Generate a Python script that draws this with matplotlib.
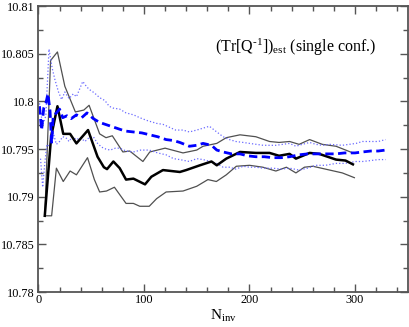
import matplotlib
matplotlib.use("Agg")
import matplotlib.pyplot as plt
from matplotlib.ticker import MultipleLocator

# ---- data ----
black_x = [6, 12, 18, 23.5, 30, 36, 47, 56, 62, 65, 71, 77, 83, 90, 101, 107, 118, 134, 140, 153,
           164, 169, 178, 191, 206, 219, 228, 238, 244, 257, 266, 282, 291, 298]
black_y = [10.788, 10.7963, 10.7995, 10.7966, 10.7966, 10.7956, 10.797, 10.7942, 10.7931, 10.7929,
           10.7937, 10.793, 10.7918, 10.7919, 10.7913, 10.7921, 10.7928, 10.7926, 10.7928, 10.7933,
           10.7937, 10.7933, 10.794, 10.7947, 10.7946, 10.7946, 10.7943, 10.7945, 10.794, 10.7946,
           10.7945, 10.7939, 10.7938, 10.7934]

gup_x = [6, 11.5, 18, 25, 35, 43, 48, 53, 58, 64, 70, 80, 86.5, 99, 105.5, 120, 137, 150, 156, 169,
         178, 191, 206, 219, 228, 238, 247, 257, 269, 282, 298]
gup_y = [10.788, 10.8043, 10.8052, 10.8016, 10.7989, 10.7991, 10.7996, 10.7981, 10.7966, 10.7962,
         10.7964, 10.7947, 10.7948, 10.7937, 10.7947, 10.7951, 10.7946, 10.7949, 10.7953, 10.7956,
         10.7962, 10.7965, 10.7963, 10.7958, 10.7957, 10.7958, 10.7955, 10.796, 10.7955, 10.7953,
         10.7946]

glo_x = [6, 12.5, 17, 23.5, 30, 36, 46.5, 53, 58, 64.5, 72, 83, 90, 96, 105, 112, 121, 137, 150,
         160.6, 168.6, 178, 187.5, 200, 212.7, 225, 235, 244, 252, 260, 276, 288, 299.4]
glo_y = [10.788, 10.788, 10.793, 10.7916, 10.7927, 10.7923, 10.7941, 10.7918, 10.7905, 10.7906,
         10.791, 10.7893, 10.7893, 10.789, 10.789, 10.7898, 10.7905, 10.7906, 10.7911, 10.7918,
         10.7916, 10.7923, 10.7932, 10.7933, 10.7931, 10.7927, 10.7931, 10.7925, 10.7931, 10.7932,
         10.7928, 10.7925, 10.792]

bd_x = [1, 3, 5, 7, 9, 11, 12.5, 14, 17, 20, 23, 27, 31, 36, 41, 46, 52, 58, 66, 74, 82, 90, 98,
        105.5, 113, 121, 128, 134, 143, 150, 156, 160, 165, 169, 175, 183, 191, 198, 206, 214, 222,
        230, 238, 247, 255, 263, 272, 282, 290, 300, 307, 315, 322, 329]
bd_y = [10.7995, 10.797, 10.7993, 10.7998, 10.8008, 10.799, 10.7956, 10.7985, 10.7988, 10.7992,
        10.7983, 10.7985, 10.7982, 10.7986, 10.7983, 10.7988, 10.7982, 10.7978, 10.7975, 10.7972,
        10.7969, 10.7968, 10.7967, 10.7965, 10.7963, 10.796, 10.7959, 10.7957, 10.7953, 10.7954,
        10.7956, 10.7955, 10.7953, 10.7949, 10.7947, 10.7945, 10.7945, 10.7943, 10.7942, 10.7942,
        10.7941, 10.7941, 10.7942, 10.7944, 10.7945, 10.7945, 10.7945, 10.7945, 10.7946, 10.7946,
        10.7947, 10.7948, 10.7948, 10.7949]

bu_x = [1, 4, 7, 10, 13, 15.6, 19, 22, 25, 29, 33, 36, 39, 42, 46, 49, 53, 58, 63, 67, 71, 77, 83,
        90, 96, 103, 112, 118, 124, 130, 137, 143, 150, 156, 162, 169, 175, 181, 187, 194, 200, 213,
        225, 238, 244, 250, 257, 263, 269, 276, 288, 301, 307, 315, 322, 329]
bu_y = [10.7998, 10.7975, 10.7985, 10.8055, 10.8035, 10.8023, 10.801, 10.8002, 10.801, 10.8003,
        10.8008, 10.8005, 10.8013, 10.8021, 10.8015, 10.8012, 10.8009, 10.8004, 10.8001, 10.7995,
        10.7993, 10.7992, 10.7988, 10.7986, 10.7983, 10.798, 10.7977, 10.7976, 10.7973, 10.797,
        10.797, 10.7968, 10.797, 10.7972, 10.7974, 10.7968, 10.7963, 10.796, 10.7958, 10.7957,
        10.7956, 10.7954, 10.7954, 10.7956, 10.7953, 10.7955, 10.7957, 10.7955, 10.7954, 10.7955,
        10.7954, 10.7956, 10.7958, 10.7958, 10.7958, 10.796]

bl_x = [2, 4, 6, 8, 11, 14, 17, 20, 23, 26, 29, 32, 36, 40, 44, 48, 52, 56, 60, 64, 68, 73, 77, 83,
        90, 97, 105, 113, 121, 128, 134, 143, 150, 156, 163, 169, 175, 181, 187, 194, 200, 206, 213,
        222, 230, 238, 247, 255, 263, 272, 282, 290, 301, 307, 315, 322, 329]
bl_y = [10.794, 10.791, 10.7935, 10.7955, 10.7952, 10.7967, 10.7955, 10.7958, 10.7963, 10.7962,
        10.7958, 10.7963, 10.796, 10.7962, 10.7958, 10.7962, 10.7963, 10.7956, 10.7952, 10.795,
        10.7949, 10.7951, 10.7951, 10.7948, 10.7947, 10.7949, 10.7949, 10.7946, 10.7944, 10.794,
        10.7939, 10.7937, 10.794, 10.7939, 10.7937, 10.7935, 10.7931, 10.7931, 10.7929, 10.7932,
        10.7931, 10.7931, 10.793, 10.793, 10.7929, 10.793, 10.7928, 10.793, 10.7933, 10.7933,
        10.7935, 10.7935, 10.7937, 10.7937, 10.7938, 10.7939, 10.7939]

xlim = (0, 350)
ylim = (10.78, 10.81)
xlabel = 'N$_{\\rm inv}$'
annotation = '(Tr[Q$^{\\rm \u2010 1}$])$_{\\rm est}$ (single conf.)'

plt.rcParams['font.family'] = ['Liberation Serif', 'DejaVu Serif']
plt.rcParams['mathtext.fontset'] = 'custom'
plt.rcParams['mathtext.rm'] = 'Liberation Serif'
plt.rcParams['mathtext.it'] = 'Liberation Serif'

fig = plt.figure(figsize=(4.09, 3.27), dpi=100)
ax = fig.add_axes([0.094, 0.107, 0.903, 0.874])

ax.plot(glo_x, glo_y, color='#505050', lw=0.9)
ax.plot(gup_x, gup_y, color='#505050', lw=0.9)
ax.plot(bu_x, bu_y, color='#6a6aff', lw=0.9, ls=':')
ax.plot(bl_x, bl_y, color='#6a6aff', lw=0.9, ls=':')
ax.plot(black_x, black_y, color='black', lw=1.8)
ax.plot(bd_x, bd_y, color='#0000ff', lw=2.0, dashes=(3.0, 1.6))

ax.set_xlim(*xlim)
ax.set_ylim(*ylim)
ax.xaxis.set_major_locator(MultipleLocator(100))
ax.xaxis.set_minor_locator(MultipleLocator(20))
ax.yaxis.set_major_locator(MultipleLocator(0.005))
ax.yaxis.set_minor_locator(MultipleLocator(0.0025))
ax.yaxis.set_major_formatter(plt.FuncFormatter(lambda v, p: ('%.3f' % v).rstrip('0').rstrip('.')))
ax.tick_params(which='both', direction='in', top=True, right=True, labelsize=8.8, color='#555555')
ax.tick_params(which='major', length=6, width=1)
ax.tick_params(which='minor', length=3.5, width=1)
ax.tick_params(axis='x', pad=1.5)
ax.tick_params(axis='y', pad=3)
for s in ax.spines.values():
    s.set_color('#555555')
    s.set_linewidth(1.3)

ax.set_xlabel(xlabel, fontsize=11, labelpad=1)
ax.text(0.916, 0.857, annotation, transform=ax.transAxes,
        ha='right', va='center', fontsize=11.5)

fig.savefig('out.png', dpi=100)
